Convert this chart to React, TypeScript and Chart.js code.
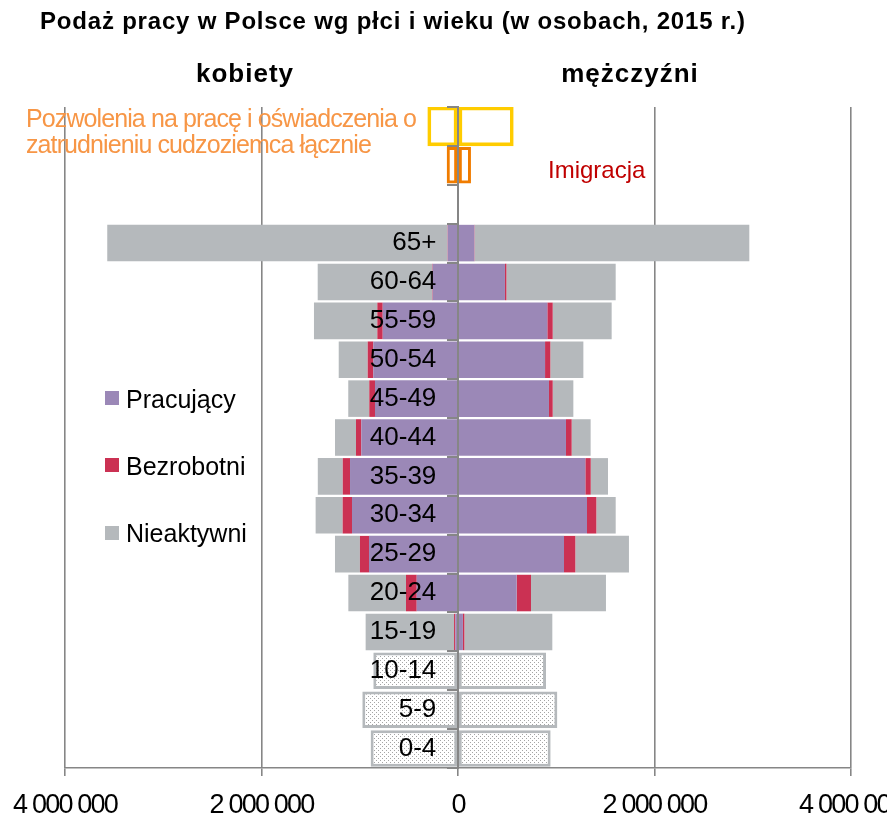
import React, { useEffect, useRef } from 'react';
import { Chart, registerables } from 'chart.js';

Chart.register(...registerables);

// ---- data ----
const ageGroups = ['65+', '60-64', '55-59', '50-54', '45-49', '40-44', '35-39', '30-34', '25-29', '20-24', '15-19'];
const childGroups = ['10-14', '5-9', '0-4'];

const femaleEmployed = [105000, 258000, 766000, 862000, 845000, 984000, 1099000, 1079000, 906000, 420000, 27000];
const femaleUnemployed = [3000, 5000, 55000, 57000, 58000, 54000, 74000, 95000, 92000, 109000, 13000];
const femaleInactive = [3462000, 1165000, 645000, 295000, 214000, 214000, 254000, 275000, 254000, 587000, 900000];

const maleEmployed = [166000, 478000, 909000, 886000, 926000, 1099000, 1296000, 1313000, 1079000, 597000, 50000];
const maleUnemployed = [3000, 15000, 55000, 54000, 38000, 58000, 55000, 95000, 115000, 146000, 15000];
const maleInactive = [2796000, 1112000, 600000, 336000, 210000, 193000, 176000, 197000, 546000, 763000, 895000];

const femaleChildren = [862000, 974000, 889000];
const maleChildren = [896000, 1011000, 943000];

const permits = [308000, 563000]; // [kobiety, mężczyźni]
const immigration = [115000, 132000]; // [kobiety, mężczyźni]

const xMin = -4000000;
const xMax = 4000000;
const xStep = 2000000;

const legendLabels = ['Pracujący', 'Bezrobotni', 'Nieaktywni'];
const titleText = 'Podaż pracy w Polsce wg płci i wieku (w osobach, 2015 r.)';
const femaleHeader = 'kobiety';
const maleHeader = 'mężczyźni';
const permitsLines = ['Pozwolenia na pracę i oświadczenia o', 'zatrudnieniu cudzoziemca łącznie'];
const immigrationLabel = 'Imigracja';

const rowLabels = ['', '', '', ...ageGroups, ...childGroups];

// ---- styles ----
const PURPLE = '#9b88b7';
const RED = '#cb3153';
const GRAY = '#b5b9bc';
const GRID = '#868686';
const YELLOW = '#ffcc00';
const ORANGE = '#f07c00';
const FONT = '"Liberation Sans", Arial, sans-serif';

const ageRows = (vals: number[], sign: number) =>
  rowLabels.map((_, i) => (i >= 3 && i < 3 + ageGroups.length ? sign * vals[i - 3] : null));
const childRows = (vals: number[], sign: number) =>
  rowLabels.map((_, i) => (i >= 3 + ageGroups.length ? sign * vals[i - 3 - ageGroups.length] : null));
const singleRow = (row: number, v: number) => rowLabels.map((_, i) => (i === row ? v : null));

const fmt = (v: number) => String(Math.abs(v)).replace(/\B(?=(\d{3})+(?!\d))/g, ' ');

export default function App() {
  const ref = useRef<HTMLCanvasElement | null>(null);

  useEffect(() => {
    if (!ref.current) return;
    const pc = document.createElement('canvas');
    pc.width = 4;
    pc.height = 4;
    const pctx = pc.getContext('2d')!;
    pctx.fillStyle = '#ffffff';
    pctx.fillRect(0, 0, 4, 4);
    pctx.fillStyle = '#a5a5a5';
    pctx.fillRect(0, 0, 1, 1);
    pctx.fillRect(2, 2, 1, 1);
    const pattern = ref.current.getContext('2d')!.createPattern(pc, 'repeat');

    const base = { stack: 's', barPercentage: 0.94, categoryPercentage: 1, borderWidth: 0 };

    const textPlugin = {
      id: 'texts',
      beforeDraw(chart: any) {
        chart.ctx.letterSpacing = '-1.8px';
      },
      beforeDatasetsDraw(chart: any) {
        chart.ctx.letterSpacing = '0px';
      },
      afterDraw(chart: any) {
        const ctx = chart.ctx as CanvasRenderingContext2D;
        ctx.save();
        ctx.textBaseline = 'alphabetic';
        ctx.fillStyle = '#000';
        ctx.font = `bold 24px ${FONT}`;
        (ctx as any).letterSpacing = '0.8px';
        ctx.textAlign = 'left';
        ctx.fillText(titleText, 40, 29);
        ctx.font = `bold 26px ${FONT}`;
        (ctx as any).letterSpacing = '1px';
        ctx.textAlign = 'center';
        ctx.fillText(femaleHeader, 245, 82);
        ctx.fillText(maleHeader, 630, 82);

        ctx.textAlign = 'left';
        ctx.font = `25px ${FONT}`;
        (ctx as any).letterSpacing = '-0.9px';
        ctx.fillStyle = '#f79646';
        ctx.fillText(permitsLines[0], 26, 127);
        ctx.fillText(permitsLines[1], 26, 153);

        ctx.font = `24px ${FONT}`;
        (ctx as any).letterSpacing = '0px';
        ctx.fillStyle = '#c00000';
        ctx.fillText(immigrationLabel, 548, 178);

        const colors = [PURPLE, RED, GRAY];
        const sq = [391, 458, 526];
        const bl = [408, 475, 542];
        ctx.font = `25px ${FONT}`;
        for (let i = 0; i < 3; i++) {
          ctx.fillStyle = colors[i];
          ctx.fillRect(105, sq[i], 14, 14);
          ctx.fillStyle = '#000';
          ctx.fillText(legendLabels[i], 126, bl[i]);
        }
        ctx.restore();
      },
    };

    const chart = new Chart(ref.current, {
      type: 'bar',
      data: {
        labels: rowLabels,
        datasets: [
          { ...base, label: 'Pracujący K', data: ageRows(femaleEmployed, -1), backgroundColor: PURPLE },
          { ...base, label: 'Bezrobotni K', data: ageRows(femaleUnemployed, -1), backgroundColor: RED },
          { ...base, label: 'Nieaktywni K', data: ageRows(femaleInactive, -1), backgroundColor: GRAY },
          { ...base, label: 'Pracujący M', data: ageRows(maleEmployed, 1), backgroundColor: PURPLE },
          { ...base, label: 'Bezrobotni M', data: ageRows(maleUnemployed, 1), backgroundColor: RED },
          { ...base, label: 'Nieaktywni M', data: ageRows(maleInactive, 1), backgroundColor: GRAY },
          { ...base, label: 'Dzieci K', data: childRows(femaleChildren, -1), backgroundColor: pattern, borderColor: GRAY, borderWidth: 3, borderSkipped: false },
          { ...base, label: 'Dzieci M', data: childRows(maleChildren, 1), backgroundColor: pattern, borderColor: GRAY, borderWidth: 3, borderSkipped: false },
          { ...base, label: 'Pozwolenia K', data: singleRow(0, -permits[0]), backgroundColor: 'rgba(0,0,0,0)', borderColor: YELLOW, borderWidth: 3, borderSkipped: false, barPercentage: 1 },
          { ...base, label: 'Pozwolenia M', data: singleRow(0, permits[1]), backgroundColor: 'rgba(0,0,0,0)', borderColor: YELLOW, borderWidth: 3, borderSkipped: false, barPercentage: 1 },
          { ...base, label: 'Imigracja K', data: singleRow(1, -immigration[0]), backgroundColor: 'rgba(0,0,0,0)', borderColor: ORANGE, borderWidth: 3, borderSkipped: false },
          { ...base, label: 'Imigracja M', data: singleRow(1, immigration[1]), backgroundColor: 'rgba(0,0,0,0)', borderColor: ORANGE, borderWidth: 3, borderSkipped: false },
        ] as any,
      },
      options: {
        indexAxis: 'y',
        animation: false,
        responsive: false,
        devicePixelRatio: 1,
        layout: { padding: { left: 65, right: 89, top: 107, bottom: 0 } },
        plugins: { legend: { display: false }, tooltip: { enabled: false } },
        scales: {
          x: {
            type: 'linear',
            stacked: true,
            min: xMin,
            max: xMax,
            ticks: {
              stepSize: xStep,
              callback: (v: any) => fmt(Number(v)),
              font: { size: 27, family: FONT },
              color: '#000',
              padding: 13,
            },
            grid: { color: GRID, lineWidth: 1.6, tickLength: 8, z: -1 },
            border: { color: GRID, width: 1.6 },
            afterFit: (s: any) => {
              s.height = 47;
              s.paddingLeft = 0;
              s.paddingRight = 0;
            },
          },
          y: {
            type: 'category',
            stacked: true,
            position: { x: 0 },
            offset: true,
            ticks: {
              autoSkip: false,
              font: { size: 26, family: FONT },
              color: '#000',
              padding: 0,
              z: 1,
              callback: (_v: any, i: number) => (rowLabels[i] ? rowLabels[i] + '   ' : ''),
            },
            grid: { drawOnChartArea: false, drawTicks: true, tickLength: 10, color: GRID, lineWidth: 2, z: 1, offset: true },
            border: { display: true, color: GRID, width: 2, z: 1 },
          },
        } as any,
      },
      plugins: [textPlugin],
    });
    return () => chart.destroy();
  }, []);

  return (
    <div style={{ position: 'fixed', left: 0, top: 0, width: 940, height: 815, background: '#fff' }}>
      <canvas ref={ref} width={940} height={815} style={{ display: 'block', width: 940, height: 815 }} />
    </div>
  );
}
